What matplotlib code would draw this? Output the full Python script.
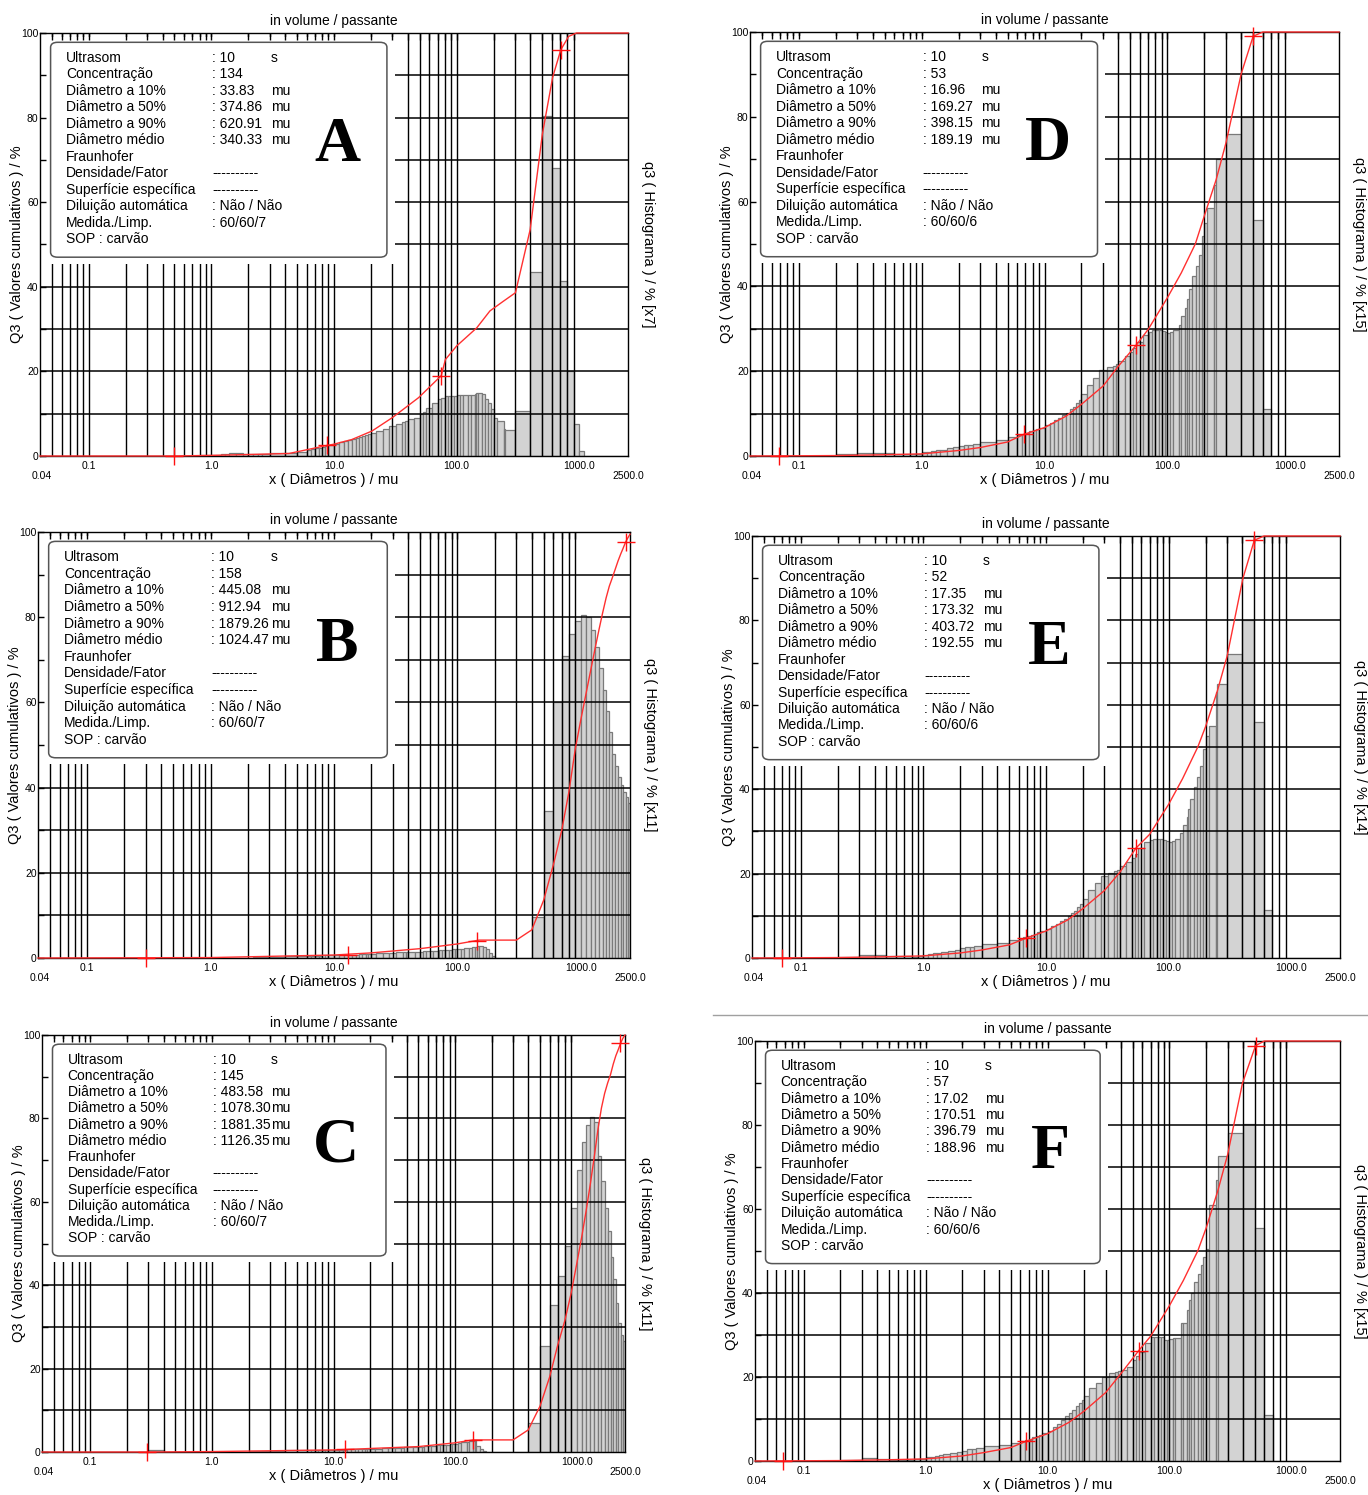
import numpy as np
import matplotlib.pyplot as plt
from matplotlib.patches import FancyBboxPatch, Rectangle
from matplotlib.lines import Line2D
from matplotlib.ticker import FixedLocator, NullLocator

plt.rcParams['font.family'] = ['Liberation Sans', 'DejaVu Sans']

W, H = 1368, 1495

# class limits of the granulometer (mu)
edges = [0.04, 0.07, 0.1, 0.2, 0.3, 0.4, 0.5, 0.6, 0.7, 0.8, 0.9,
         1.0, 1.1, 1.2, 1.3, 1.4, 1.6, 1.8, 2.0, 2.2, 2.4, 2.6, 3.0,
         4.0, 5.0, 6.0, 6.5, 7.0, 7.5, 8.0, 8.5, 9.0,
         10, 11, 12, 13, 14, 15, 16, 17, 18, 19, 20,
         22, 25, 28, 32, 36, 38, 40, 45, 50,
         53, 56, 63, 71, 75, 80, 85, 90, 95,
         100, 106, 112, 125, 130, 140, 145, 150, 160, 170, 180, 190,
         200, 212, 242, 250, 300, 400,
         500, 600, 700, 800, 900, 1000, 1100, 1200, 1300, 1400, 1500,
         1600, 1700, 1800, 1900, 2000, 2100, 2200, 2300, 2400, 2500]

# q3 histograms (already multiplied by the factor shown on the right axis)
hist_A = [0, 0, 0, 0, 0, 0, 0, 0, 0.1, 0.2,
          0.2,
          0.3, 0.3, 0.4, 0.4, 0.6, 0.7, 0.5, 0.5, 0.5, 0.5, 0.5,
          0.6, 0.7, 1.0, 1.4, 1.6, 1.8, 2.0, 2.2, 2.4, 2.6,
          2.8, 3.2, 3.5, 3.8, 4.0, 4.2, 4.5, 4.7, 5.0, 5.2,
          5.5, 5.9, 6.5, 7.0, 7.5, 8.0, 8.3, 8.7, 9.1,
          10.0, 10.5, 11.4, 12.6, 13.5, 13.8, 14.2, 14.3, 14.3, 14.3,
          14.4, 14.4, 14.4, 14.5, 14.4, 14.6, 14.8, 14.8, 14.6, 13.5, 12.5, 11.0,
          9.0, 8.2, 6.3, 6.2, 10.6, 43.5, 80.3, 68.1,
          41.3, 20.2, 7.5, 1.2,
          0, 0, 0, 0, 0, 0, 0, 0, 0, 0, 0, 0, 0, 0]

hist_B = [0, 0, 0, 0, 0, 0, 0, 0, 0, 0, 0, 0, 0, 0, 0, 0, 0, 0, 0,
          0.3, 0.3, 0.3, 0.3,
          0.4, 0.4, 0.5, 0.5, 0.5, 0.5, 0.6, 0.6, 0.6,
          0.6, 0.7, 0.7, 0.8, 0.8, 0.8, 0.9, 0.9, 1.0, 1.0,
          1.0, 1.1, 1.2, 1.2, 1.3, 1.3, 1.4, 1.4, 1.5,
          1.5, 1.6, 1.6, 1.7, 1.8, 1.8, 1.9, 1.9, 2.0, 2.0,
          2.1, 2.2, 2.3, 2.4, 2.5, 2.6, 2.7, 2.7, 2.6, 2.2, 1.2, 0.5,
          0, 0, 0, 0, 0,
          9.7, 34.6, 60.0,
          71.0, 76.0, 79.0, 80.5, 80.0, 77.0, 73.0, 68.0, 63.0, 58.0,
          53.0, 48.0, 45.0, 42.5, 40.5, 39.0, 37.9, 36.4]

hist_C = [0, 0, 0, 0,
          0.4,
          0, 0, 0, 0, 0, 0, 0, 0, 0, 0, 0, 0, 0,
          0.3, 0.3, 0.3, 0.3, 0.3,
          0.4, 0.4, 0.4, 0.4, 0.4, 0.4, 0.4, 0.4, 0.4,
          0.5, 0.5, 0.5, 0.6, 0.6, 0.6, 0.6, 0.7, 0.7, 0.7,
          0.8, 0.8, 0.9, 0.9, 1.0, 1.0, 1.1, 1.1, 1.2,
          1.3, 1.3, 1.4, 1.5, 1.6, 1.6, 1.7, 1.7, 1.8, 1.8,
          2.0, 2.1, 2.3, 2.5, 2.6, 2.7, 2.8, 1.5, 0.8, 0.3, 0, 0,
          0, 0, 0, 0, 0,
          6.9, 25.4, 35.3,
          42.1, 49.3, 58.5, 67.7, 74.4, 78.4, 80.4, 79.2, 71.1, 64.9,
          58.5, 52.9, 46.7, 41.5, 35.7, 30.9, 28.0, 26.5]

hist_D = [0, 0, 0,
          0.4, 0.8, 0.7, 0.6, 0.5, 0.4, 0.4, 0.5,
          0.9, 1.0, 1.2, 1.4, 1.5, 1.8, 2.1, 2.4, 2.6, 2.7, 2.9,
          3.4, 3.8, 4.4, 4.9, 5.2, 5.5, 5.8, 6.1, 6.4, 6.7,
          7.2, 7.9, 8.5, 9.0, 9.6, 10.2, 11.0, 11.5, 12.4, 13.3,
          14.7, 16.8, 18.5, 20.3, 20.9, 21.3, 21.6, 22.5, 23.6,
          24.6, 25.5, 27.0, 28.6, 29.3, 29.6, 29.7, 29.6, 29.4, 29.2,
          28.9, 29.3, 29.6, 31.0, 33.0, 35.0, 37.0, 39.3, 42.4, 44.8, 47.5, 51.8,
          55.0, 58.5, 64.0, 70.0, 76.0, 80.0, 55.7, 11.1,
          0, 0, 0, 0, 0, 0, 0, 0, 0, 0, 0, 0, 0, 0, 0, 0, 0, 0]

hist_E = [0, 0, 0,
          0.3, 0.7, 0.6, 0.5, 0.4, 0.4, 0.3, 0.4,
          0.8, 0.9, 1.1, 1.3, 1.4, 1.7, 2.0, 2.3, 2.5, 2.6, 2.8,
          3.2, 3.6, 4.2, 4.6, 4.9, 5.2, 5.5, 5.8, 6.1, 6.4,
          6.9, 7.5, 8.1, 8.7, 9.3, 9.9, 10.6, 11.2, 12.0, 12.8,
          14.0, 16.0, 17.8, 19.5, 20.2, 20.6, 20.9, 21.8, 22.8,
          23.8, 24.6, 26.0, 27.4, 28.0, 28.2, 28.3, 28.2, 28.0, 27.8,
          27.5, 27.8, 28.2, 29.6, 31.5, 33.5, 35.4, 37.6, 40.5, 43.0, 45.6, 49.5,
          52.5, 55.0, 63.0, 65.0, 72.0, 80.0, 56.0, 11.4,
          0, 0, 0, 0, 0, 0, 0, 0, 0, 0, 0, 0, 0, 0, 0, 0, 0, 0]

hist_F = [0, 0, 0,
          0.2, 0.8, 0.4, 0.2, 0.2, 0.2, 0.4, 0.4,
          0.9, 0.9, 1.1, 1.4, 1.6, 2.0, 2.2, 2.4, 2.8, 2.9, 3.2,
          3.6, 3.9, 4.3, 4.7, 5.0, 5.1, 5.7, 6.0, 6.3, 6.7,
          7.1, 8.0, 8.7, 9.7, 10.7, 11.5, 12.2, 13.0, 13.8, 14.6,
          15.4, 17.4, 18.5, 20.0, 20.9, 21.3, 21.5, 21.7, 22.5,
          24.0, 25.0, 26.0, 28.0, 29.6, 29.6, 29.6, 29.6, 28.8, 28.8,
          29.0, 29.2, 29.4, 32.8, 32.8, 36.0, 38.3, 40.0, 42.6, 44.5, 46.6, 48.5,
          50.5, 61.0, 67.0, 72.6, 78.0, 80.3, 55.5, 11.0,
          0, 0, 0, 0, 0, 0, 0, 0, 0, 0, 0, 0, 0, 0, 0, 0, 0, 0]

# Q3 cumulative curves (diameter, % passing)
cum_A_x = [0.04, 0.5, 1, 2, 4.3, 8.8, 10, 14, 20.4, 30, 49, 75, 81, 100, 146,
           187, 241, 302, 398, 500, 607, 707, 820, 950, 2500]
cum_A_y = [0, 0, 0.15, 0.35, 0.6, 2.5, 2.8, 3.9, 5.9, 9.1, 13.8, 19, 22.8, 26,
           30.3, 34.3, 36.6, 38.6, 53.5, 76, 89.5, 96, 99.2, 100, 100]
cum_B_x = [0.04, 1, 10, 20, 50, 100, 143, 150, 300, 400, 500, 600, 700, 800,
           900, 1000, 1100, 1200, 1300, 1400, 1500, 1600, 1700, 1800, 1900,
           2000, 2100, 2200, 2300, 2400, 2500]
cum_B_y = [0, 0.1, 0.7, 1.2, 2.2, 3.3, 4.1, 4.2, 4.2, 6.6, 13.6, 22, 30, 39,
           49, 56, 62, 67.5, 72.5, 77, 81, 84.5, 87.3, 89.3, 91.3, 93.2, 94.8,
           96.2, 97.6, 98.6, 99.5]
cum_C_x = [0.04, 0.3, 1, 10, 12.4, 50, 100, 140, 300, 400, 500, 600, 700, 800,
           900, 1000, 1100, 1200, 1300, 1400, 1500, 1600, 1700, 1800, 1900,
           2000, 2100, 2200, 2300, 2400, 2500]
cum_C_y = [0, 0, 0.1, 0.5, 0.6, 1.3, 2.2, 2.9, 2.9, 5.3, 11, 18, 25.7, 31.5,
           38, 45, 51.5, 58, 64.5, 71, 77.5, 82.5, 86, 88.5, 90.5, 93, 95,
           96.5, 98, 99.2, 100]
cum_D_x = [0.04, 0.2, 0.5, 1, 2, 3, 5, 6.8, 10, 15, 20, 30, 40, 56, 70, 100,
           130, 169, 200, 250, 300, 400, 500, 600, 2500]
cum_D_y = [0, 0.1, 0.3, 0.5, 1.3, 2, 3.3, 5.1, 6.7, 9.4, 12.2, 16.5, 21.2,
           26.2, 29.9, 37.3, 43.2, 50, 56.6, 65.2, 73.8, 90.2, 99, 100, 100]
cum_E_x = [0.04, 0.2, 0.5, 1, 2, 3, 5, 6.9, 10, 15, 20, 30, 40, 54, 70, 100,
           130, 173, 200, 250, 300, 404, 500, 600, 2500]
cum_E_y = [0, 0.1, 0.3, 0.5, 1.2, 1.9, 3.1, 4.7, 6.4, 9.0, 11.7, 16, 20.3, 26,
           29.3, 36.4, 42.5, 50, 54.8, 63.3, 71.5, 90, 99, 100, 100]
cum_F_x = [0.04, 0.2, 0.5, 1, 2, 3, 5, 6.7, 10, 15, 20, 30, 40, 56, 70, 100,
           130, 170.5, 200, 250, 300, 397, 508, 600, 2500]
cum_F_y = [0, 0.1, 0.3, 0.5, 1.2, 2.0, 3.2, 4.7, 6.5, 9.2, 11.9, 16.3, 20.8,
           26.3, 29.7, 37, 43, 50, 55.5, 64.5, 73, 90, 98.9, 100, 100]

# cursor marks on the cumulative curve
mark_A = ([0.5, 8.8, 75, 707], [0, 2.5, 19, 96])
mark_B = ([0.3, 13, 143, 2300], [0, 0.8, 4.1, 97.6])
mark_C = ([0.29, 12.4, 140, 2290], [0, 0.6, 2.9, 98])
mark_D = ([0.069, 6.8, 56, 500], [0, 5.1, 26.2, 99])
mark_E = ([0.07, 6.9, 54, 498], [0, 4.7, 26, 99])
mark_F = ([0.068, 6.7, 56, 508], [0, 4.7, 26.3, 98.9])

# measurement report
row_labels = ["Ultrasom", "Concentração", "Diâmetro a 10%", "Diâmetro a 50%",
              "Diâmetro a 90%", "Diâmetro médio", "Fraunhofer",
              "Densidade/Fator", "Superfície específica",
              "Diluição automática", "Medida./Limp.", "SOP : carvão"]
conc = {"A": "134", "B": "158", "C": "145", "D": "53", "E": "52", "F": "57"}
d10 = {"A": "33.83", "B": "445.08", "C": "483.58", "D": "16.96", "E": "17.35", "F": "17.02"}
d50 = {"A": "374.86", "B": "912.94", "C": "1078.30", "D": "169.27", "E": "173.32", "F": "170.51"}
d90 = {"A": "620.91", "B": "1879.26", "C": "1881.35", "D": "398.15", "E": "403.72", "F": "396.79"}
dmed = {"A": "340.33", "B": "1024.47", "C": "1126.35", "D": "189.19", "E": "192.55", "F": "188.96"}
cycles = {"A": "60/60/7", "B": "60/60/7", "C": "60/60/7", "D": "60/60/6", "E": "60/60/6", "F": "60/60/6"}
factor = {"A": "x7", "B": "x11", "C": "x11", "D": "x15", "E": "x14", "F": "x15"}

# axes frames in pixels: left, top, right, bottom
frames = {"A": (40, 33, 628, 456), "D": (750, 32, 1339, 456),
          "B": (38, 532, 630, 958), "E": (752, 536, 1340, 958),
          "C": (42, 1035, 625, 1452), "F": (755, 1041, 1340, 1461)}

panels = {"A": (hist_A, cum_A_x, cum_A_y, mark_A),
          "B": (hist_B, cum_B_x, cum_B_y, mark_B),
          "C": (hist_C, cum_C_x, cum_C_y, mark_C),
          "D": (hist_D, cum_D_x, cum_D_y, mark_D),
          "E": (hist_E, cum_E_x, cum_E_y, mark_E),
          "F": (hist_F, cum_F_x, cum_F_y, mark_F)}

grid_x = [k * 10.0 ** n for n in range(-2, 3) for k in range(1, 10)]
grid_x = [v for v in grid_x if 0.049 < v < 1001]
xlabels = [(0.1, "0.1"), (1, "1.0"), (10, "10.0"), (100, "100.0"), (1000, "1000.0")]

fig = plt.figure(figsize=(W / 100, H / 100), dpi=100)

for key, (l, t, r, b) in frames.items():
    hist, cx, cy, marks = panels[key]
    ax = fig.add_axes([l / W, 1 - b / H, (r - l) / W, (b - t) / H])
    ax.set_xscale('log')
    ax.set_xlim(0.04, 2500)
    ax.set_ylim(0, 100)
    ax.set_axisbelow(False)

    ax.bar(edges[:-1], hist, width=np.diff(edges), align='edge',
           color='#d3d3d3', edgecolor='#7a7a7a', linewidth=0.9, zorder=1)
    for v in grid_x:
        ax.axvline(v, color='black', lw=1.0, zorder=2)
    for h in range(10, 100, 10):
        ax.axhline(h, color='black', lw=1.1, zorder=2)

    # blank area behind the report box
    ax.add_patch(Rectangle((0, 0.455), 0.603, 0.536, transform=ax.transAxes,
                           facecolor='white', edgecolor='none', zorder=2.2))
    ax.add_patch(FancyBboxPatch((0.018, 0.47), 0.572, 0.508,
                                boxstyle='round,pad=0,rounding_size=0.012',
                                transform=ax.transAxes, facecolor='white',
                                edgecolor='#555555', lw=1.1, zorder=2.3))

    values = [": 10", ": " + conc[key], ": " + d10[key], ": " + d50[key],
              ": " + d90[key], ": " + dmed[key], "", "----------",
              "----------", ": Não / Não", ": " + cycles[key], ""]
    units = ["s", "", "mu", "mu", "mu", "mu", "", "", "", "", "", ""]
    for i, lab in enumerate(row_labels):
        yy = 0.941 - i * 0.039
        ax.text(0.044, yy, lab, transform=ax.transAxes, fontsize=10,
                va='center', zorder=4)
        ax.text(0.293, yy, values[i], transform=ax.transAxes, fontsize=10,
                va='center', zorder=4)
        if units[i]:
            ax.text(0.393, yy, units[i], transform=ax.transAxes, fontsize=10,
                    va='center', zorder=4)
    ax.text(0.505, 0.733, key, transform=ax.transAxes, fontsize=46,
            fontweight='bold', family='Liberation Serif', ha='center',
            va='center', zorder=4)

    ax.plot(cx, cy, color='#ff3030', lw=1.0, zorder=3, clip_on=False)
    ax.plot(marks[0], marks[1], '+', color='#ff1010', ms=13, mew=1.0,
            zorder=3, clip_on=False)

    ax.xaxis.set_major_locator(FixedLocator(grid_x))
    ax.xaxis.set_minor_locator(NullLocator())
    ax.tick_params(axis='x', which='both', direction='in', length=5,
                   top=True, bottom=False, labelbottom=False, width=1)
    ax.set_yticks(range(0, 101, 10))
    ax.set_yticklabels([str(v) if v % 20 == 0 else "" for v in range(0, 101, 10)])
    ax.yaxis.set_minor_locator(NullLocator())
    ax.tick_params(axis='y', direction='in', length=4, left=True, right=False,
                   labelsize=7.5, pad=1, width=1)
    for s in ax.spines.values():
        s.set_linewidth(1.0)

    xt = ax.get_xaxis_transform()
    for v, lab in xlabels:
        ax.text(v, -0.012, lab, transform=xt, fontsize=7.5, ha='center',
                va='top')
    ax.text(0.003, -0.035, "0.04", transform=ax.transAxes, fontsize=7.5,
            ha='center', va='top')
    ax.text(1.0, -0.035, "2500.0", transform=ax.transAxes, fontsize=7.5,
            ha='center', va='top')
    ax.text(0.5, -0.057, "x ( Diâmetros ) / mu", transform=ax.transAxes,
            fontsize=10.5, ha='center', va='center')
    ax.text(0.5, 1.028, "in volume / passante", transform=ax.transAxes,
            fontsize=10, ha='center', va='center')
    ax.text(-0.039, 0.5, "Q3 ( Valores cumulativos ) / %",
            transform=ax.transAxes, fontsize=10.5, rotation=90,
            ha='center', va='center')
    ax.text(1.034, 0.5, "q3 ( Histograma ) / % [" + factor[key] + "]",
            transform=ax.transAxes, fontsize=10.5, rotation=270,
            ha='center', va='center')

fig.add_artist(Line2D([713 / W, 1.0], [1 - 1015 / H, 1 - 1015 / H],
                      color='#a0a0a0', lw=1.0))

fig.savefig("out.png", dpi=100)
